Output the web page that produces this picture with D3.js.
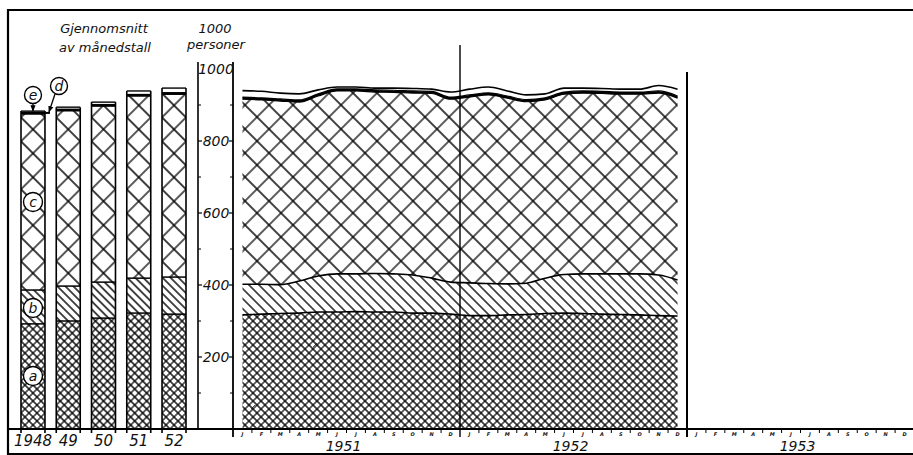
<!DOCTYPE html>
<html>
<head>
<meta charset="utf-8">
<script src="https://cdn.jsdelivr.net/npm/d3@7"></script>
<style>
  html, body { margin: 0; padding: 0; background: #fff; }
  svg { display: block; }
  text { font-family: "DejaVu Sans", sans-serif; font-style: italic; fill: #111; }
</style>
</head>
<body>
<script>
// ---------- DATA ----------
// Yearly averages of monthly figures (left panel), 1000 persons
const barYears = ["1948", "49", "50", "51", "52"];
const barA = [292, 300, 308, 322, 319];
const barB = [94, 97, 100, 97, 103];
const barC = [489, 487, 489, 506, 508];
const barD = [6, 6, 6, 6, 6];
const barE = [2, 4, 5, 8, 11];

// Monthly figures Jan 1951 .. Dec 1952
const monthA = [317, 319, 321, 322, 325, 325, 326, 325, 325, 322, 322, 319,
                315, 315, 317, 318, 321, 322, 321, 319, 318, 317, 315, 314];
const monthB = [85, 83, 80, 89, 100, 106, 105, 107, 106, 106, 97, 89,
                91, 89, 86, 87, 98, 107, 110, 112, 113, 114, 113, 100];
const monthC = [514, 512, 510, 497, 500, 508, 508, 504, 504, 505, 513, 508,
                516, 524, 516, 504, 495, 501, 502, 501, 499, 499, 505, 505];
const monthD = [6, 6, 6, 6, 6, 6, 6, 6, 6, 6, 6, 6,
                6, 6, 6, 6, 6, 6, 6, 6, 6, 6, 6, 6];
const monthE = [18, 18, 16, 17, 11, 5, 5, 5, 6, 7, 6, 14,
                16, 16, 14, 13, 11, 11, 8, 8, 8, 8, 15, 19];

const monthLetters = ["J", "F", "M", "A", "M", "J", "J", "A", "S", "O", "N", "D"];
const axisYears = ["1951", "1952", "1953"];
const yMajorTicks = [200, 400, 600, 800, 1000];
const yMinorTicks = [100, 300, 500, 700, 900];
const keys = ["a", "b", "c", "d", "e"];

// ---------- SETUP ----------
const W = 913, H = 455;
const svg = d3.select("body").append("svg").attr("width", W).attr("height", H);
const ink = "#000";

const y = d3.scaleLinear().domain([0, 1000]).range([429, 69]);
const x = d3.scaleLinear().domain([0, 36]).range([233, 914]);   // months from Jan 1951
const xb = d3.scaleBand().domain(barYears).range([21, 186]).paddingInner(0.32);
const bw = xb.bandwidth();

const defs = svg.append("defs");
function hatch(id, period, tx, ty, sw, cross) {
  const w = period / Math.SQRT2;
  const p = defs.append("pattern").attr("id", id)
    .attr("patternUnits", "userSpaceOnUse")
    .attr("width", w).attr("height", w)
    .attr("patternTransform", `translate(${tx},${ty}) rotate(45)`);
  let d = `M-1,0H${w + 1}M-1,${w}H${w + 1}`;
  if (cross) d += `M0,-1V${w + 1}M${w},-1V${w + 1}`;
  p.append("path").attr("d", d).attr("stroke", ink).attr("stroke-width", sw).attr("fill", "none");
}
// monthly patterns
hatch("mDense", 8, 233, 429, 1.25, true);
hatch("mDiag", 10, 233, 429, 1.25, false);
hatch("mLarge", 24, 233, 429, 1.3, true);
// per-bar patterns aligned to bar edges
barYears.forEach((yr, j) => {
  const bx = xb(yr);
  hatch("bDense" + j, bw / 3, bx, 429, 1.25, true);
  hatch("bDiag" + j, bw / 3, bx, 429, 1.25, false);
  hatch("bLarge" + j, bw, bx, 429, 1.3, true);
});

const marker = defs.append("marker").attr("id", "arrow")
  .attr("viewBox", "0 0 10 10").attr("refX", 9).attr("refY", 5)
  .attr("markerWidth", 5).attr("markerHeight", 5).attr("orient", "auto-start-reverse");
marker.append("path").attr("d", "M0,1L10,5L0,9z").attr("fill", ink);

// ---------- FRAME ----------
svg.append("path").attr("d", `M914,10H8V454H914`)
  .attr("fill", "none").attr("stroke", ink).attr("stroke-width", 2.2);

// ---------- MONTHLY STACKED AREAS ----------
const monthTable = d3.range(24).map(i => ({
  i, a: monthA[i], b: monthB[i], c: monthC[i], d: monthD[i], e: monthE[i]
}));
const mSeries = d3.stack().keys(keys)(monthTable);
const mFill = { a: "url(#mDense)", b: "url(#mDiag)", c: "url(#mLarge)", d: ink, e: "#fff" };
const area = d3.area()
  .x(d => x(d.data.i + 0.5)).y0(d => y(d[0])).y1(d => y(d[1]))
  .curve(d3.curveMonotoneX);
const topLine = d3.line()
  .x(d => x(d.data.i + 0.5)).y(d => y(d[1]))
  .curve(d3.curveMonotoneX);

svg.append("g").selectAll("path").data(mSeries).join("path")
  .attr("d", area).attr("fill", s => mFill[s.key]).attr("stroke", "none");
const mStroke = { a: 1.6, b: 1.6, c: 1.2, d: 1.2, e: 1.6 };
svg.append("g").selectAll("path").data(mSeries).join("path")
  .attr("d", topLine).attr("fill", "none").attr("stroke", ink)
  .attr("stroke-width", s => mStroke[s.key]).attr("stroke-linejoin", "round");

// ---------- YEARLY BARS ----------
const barTable = barYears.map((yr, j) => ({
  yr, j, a: barA[j], b: barB[j], c: barC[j], d: barD[j], e: barE[j]
}));
const bSeries = d3.stack().keys(keys)(barTable);
const bFill = (key, j) => ({ a: `url(#bDense${j})`, b: `url(#bDiag${j})`, c: `url(#bLarge${j})`, d: ink, e: "#fff" })[key];
const gb = svg.append("g");
bSeries.forEach(s => {
  gb.selectAll(null).data(s).join("rect")
    .attr("x", d => xb(d.data.yr)).attr("width", bw)
    .attr("y", d => y(d[1])).attr("height", d => y(d[0]) - y(d[1]))
    .attr("fill", d => bFill(s.key, d.data.j));
  gb.selectAll(null).data(s).join("line")
    .attr("x1", d => xb(d.data.yr)).attr("x2", d => xb(d.data.yr) + bw)
    .attr("y1", d => y(d[1])).attr("y2", d => y(d[1]))
    .attr("stroke", ink).attr("stroke-width", s.key === "e" || s.key === "d" ? 1.4 : 1.5);
});
const last = bSeries[bSeries.length - 1];
gb.selectAll(null).data(last).join("path")
  .attr("d", d => `M${xb(d.data.yr)},433V${y(d[1])}M${xb(d.data.yr) + bw},${y(d[1])}V433`)
  .attr("fill", "none").attr("stroke", ink).attr("stroke-width", 1.6);

// d pointer extension on 1948 bar
const dTop48 = bSeries[3][0];
svg.append("line")
  .attr("x1", xb("1948") + bw).attr("x2", xb("1948") + bw + 5)
  .attr("y1", y((dTop48[0] + dTop48[1]) / 2)).attr("y2", y((dTop48[0] + dTop48[1]) / 2))
  .attr("stroke", ink).attr("stroke-width", 2);

// ---------- Y AXIS COLUMN ----------
const gy = svg.append("g");
gy.append("line").attr("x1", 198).attr("x2", 198).attr("y1", 62).attr("y2", 429)
  .attr("stroke", ink).attr("stroke-width", 1.6);
gy.append("line").attr("x1", 233).attr("x2", 233).attr("y1", 62).attr("y2", 437)
  .attr("stroke", ink).attr("stroke-width", 1.8);
yMajorTicks.forEach(v => {
  gy.append("text").attr("x", 216).attr("y", y(v) + 5)
    .attr("text-anchor", "middle").attr("font-size", 14).text(v);
  if (v !== 1000) {
    gy.append("line").attr("x1", 198).attr("x2", 202).attr("y1", y(v)).attr("y2", y(v))
      .attr("stroke", ink).attr("stroke-width", 1.2);
    gy.append("line").attr("x1", 229).attr("x2", 233).attr("y1", y(v)).attr("y2", y(v))
      .attr("stroke", ink).attr("stroke-width", 1.2);
  }
});
yMinorTicks.forEach(v => {
  gy.append("line").attr("x1", 198).attr("x2", 201).attr("y1", y(v)).attr("y2", y(v))
    .attr("stroke", ink).attr("stroke-width", 1);
  gy.append("line").attr("x1", 230).attr("x2", 233).attr("y1", y(v)).attr("y2", y(v))
    .attr("stroke", ink).attr("stroke-width", 1);
});

// ---------- YEAR DIVIDERS & X AXIS ----------
svg.append("line").attr("x1", x(12)).attr("x2", x(12)).attr("y1", 45).attr("y2", 437)
  .attr("stroke", ink).attr("stroke-width", 1.4);
svg.append("line").attr("x1", x(24)).attr("x2", x(24)).attr("y1", 72).attr("y2", 437)
  .attr("stroke", ink).attr("stroke-width", 2);
svg.append("line").attr("x1", 8).attr("x2", 914).attr("y1", 429).attr("y2", 429)
  .attr("stroke", ink).attr("stroke-width", 2.2);

const gx = svg.append("g");
d3.range(36).forEach(i => {
  if (i % 12 !== 0) {
    gx.append("line").attr("x1", x(i)).attr("x2", x(i)).attr("y1", 429).attr("y2", 433)
      .attr("stroke", ink).attr("stroke-width", 1);
  }
  gx.append("text").attr("x", x(i + 0.5)).attr("y", 435.5)
    .attr("text-anchor", "middle").attr("font-size", 5).attr("font-weight", "bold")
    .text(monthLetters[i % 12]);
});
axisYears.forEach((yr, k) => {
  gx.append("text").attr("x", x(k * 12 + 6) - 3).attr("y", 451)
    .attr("text-anchor", "middle").attr("font-size", 14).text(yr);
});
barYears.forEach(yr => {
  gx.append("text").attr("x", xb(yr) + bw / 2).attr("y", 446)
    .attr("text-anchor", "middle").attr("font-size", 15).text(yr);
});

// ---------- TITLES ----------
svg.append("text").attr("x", 104).attr("y", 33).attr("text-anchor", "middle")
  .attr("font-size", 13).text("Gjennomsnitt");
svg.append("text").attr("x", 105).attr("y", 52).attr("text-anchor", "middle")
  .attr("font-size", 13).text("av månedstall");
svg.append("text").attr("x", 215).attr("y", 33).attr("text-anchor", "middle")
  .attr("font-size", 13).text("1000");
svg.append("text").attr("x", 216).attr("y", 49).attr("text-anchor", "middle")
  .attr("font-size", 13).text("personer");

// ---------- CIRCLE LABELS ----------
const cx0 = xb("1948") + bw / 2;
const circles = [
  { t: "e", cx: cx0, cy: 95, r: 8.5 },
  { t: "d", cx: 59, cy: 86, r: 8.5 },
  { t: "c", cx: cx0, cy: 202, r: 9.5 },
  { t: "b", cx: cx0, cy: 308, r: 9.5 },
  { t: "a", cx: cx0, cy: 376, r: 9.5 }
];
const gc = svg.append("g");
circles.forEach(c => {
  gc.append("circle").attr("cx", c.cx).attr("cy", c.cy).attr("r", c.r)
    .attr("fill", "#fff").attr("stroke", ink).attr("stroke-width", 1.4);
  gc.append("text").attr("x", c.cx).attr("y", c.cy + 5).attr("text-anchor", "middle")
    .attr("font-size", 14).text(c.t);
});
gc.append("line").attr("x1", cx0).attr("y1", 104).attr("x2", cx0).attr("y2", 111)
  .attr("stroke", ink).attr("stroke-width", 1.3).attr("marker-end", "url(#arrow)");
gc.append("line").attr("x1", 55).attr("y1", 94).attr("x2", 49).attr("y2", 112)
  .attr("stroke", ink).attr("stroke-width", 1.3).attr("marker-end", "url(#arrow)");
</script>
</body>
</html>
